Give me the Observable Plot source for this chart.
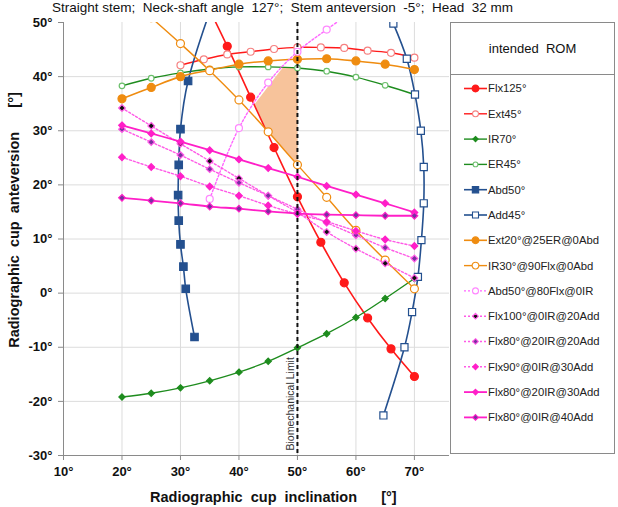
<!DOCTYPE html>
<html><head><meta charset="utf-8">
<script src="https://cdn.jsdelivr.net/npm/d3@7"></script>
<script src="https://cdn.jsdelivr.net/npm/@observablehq/plot@0.6"></script>
<style>
body{margin:0;background:#fff;font-family:"Liberation Sans",Arial,sans-serif;color:#111}
#wrap{position:relative;width:618px;height:507px;overflow:hidden}
#chart{position:absolute;left:0;top:0}
.abs{position:absolute;white-space:pre}
</style></head><body><div id="wrap"><div id="chart"></div></div>
<script>
// ---- data ----
const titleText = "Straight stem;  Neck-shaft angle  127°;  Stem anteversion  -5°;  Head  32 mm";
const xTicks = [10, 20, 30, 40, 50, 60, 70];
const yTicks = [-30, -20, -10, 0, 10, 20, 30, 40, 50];
const limitX = [50];
const limitLabel = "Biomechanical Limit";
const romLabel = "intended  ROM";

const flx125 = [[34,54.5],[38,45.6],[42,36.2],[46,26.9],[50,17.8],[54,9.4],[58,1.9],[62,-4.6],[66,-10.3],[70,-15.4]];
const ext45 = [[30,42.1],[34,43.2],[38,44.1],[42,44.6],[46,45.1],[50,45.4],[54,45.4],[58,45.3],[62,44.8],[66,44.4],[70,43.5]];
const ir70 = [[20,-19.2],[25,-18.5],[30,-17.5],[35,-16.2],[40,-14.6],[45,-12.6],[50,-10.1],[55,-7.5],[60,-4.5],[65,-1.0],[70,2.7]];
const er45 = [[20,38.3],[25,39.7],[30,40.7],[35,41.4],[40,41.8],[45,41.8],[50,41.6],[55,41.0],[60,39.9],[65,38.4],[70,36.7]];
const abd50 = [[32.4,-8.1],[30.9,0.8],[30.5,4.9],[30.0,9.0],[29.7,13.4],[29.6,18.1],[29.7,23.7],[30.0,30.3],[31.3,39.2],[36.3,56.0]];
const add45 = [[66.4,49.8],[68.7,43.3],[70.1,36.7],[71.1,30.0],[71.6,23.3],[71.6,16.6],[71.2,9.8],[70.6,3.0],[69.6,-3.5],[68.3,-10.0],[64.7,-22.6]];
const ext20 = [[20,35.9],[25,38.0],[30,40.0],[35,41.2],[40,42.3],[45,42.9],[50,43.2],[55,43.3],[60,42.9],[65,42.3],[70,41.3]];
const ir30 = [[25,50.9],[30,46.1],[35,41.1],[40,35.7],[45,29.8],[50,23.7],[55,17.7],[60,11.6],[65,6.1],[70,0.8]];
const abd50f80 = [[35,17.4],[40,30.5],[45,38.9],[50,44.6],[55,48.7],[60,52.5]];
const flx100 = [[20,34.2],[25,30.9],[30,27.6],[35,24.4],[40,21.2],[45,18.0],[50,14.9],[55,11.3],[60,8.2],[65,5.5],[70,2.8]];
const flx80ir20add20 = [[20,30.3],[25,27.9],[30,25.5],[35,22.9],[40,20.4],[45,18.0],[50,15.5],[55,13.0],[60,10.7],[65,8.4],[70,6.4]];
const flx90add30 = [[20,25.1],[25,23.3],[30,21.6],[35,19.7],[40,18.0],[45,16.2],[50,14.6],[55,13.2],[60,11.5],[65,9.9],[70,8.7]];
const flx80ir20add30 = [[20,31.0],[25,29.5],[30,28.0],[35,26.4],[40,24.7],[45,23.1],[50,21.5],[55,19.8],[60,18.2],[65,16.6],[70,14.9]];
const flx80add40 = [[20,17.6],[25,17.1],[30,16.6],[35,16.0],[40,15.6],[45,15.1],[50,14.7],[55,14.5],[60,14.4],[65,14.3],[70,14.3]];
const romRegion = [[42.6,34.8],[47.5,41.7],[50,41.6],[50,23.7],[44.5,30.4]];

// ---- styles ----
const RED="#ff1a1a", GREEN="#1e8c1e", BLUE="#24508f", ORANGE="#ef8c10", PINK="#ff5ae6", MAG="#ff1fc8", PURP="#7a2fa0";
const DOT = "2,2";
const series = [
 {name:"Flx125°", data:flx125, stroke:RED, sw:1.6, symbol:"circle", r:4, fill:RED, ms:RED},
 {name:"Ext45°", data:ext45, stroke:RED, sw:1.4, symbol:"circle", r:3.5, fill:"#fff", ms:"#f58080"},
 {name:"IR70°", data:ir70, stroke:GREEN, sw:1.4, symbol:"diamond2", r:2.8, fill:GREEN, ms:GREEN},
 {name:"ER45°", data:er45, stroke:GREEN, sw:1.4, symbol:"circle", r:2.8, fill:"#fff", ms:"#6cbf6c"},
 {name:"Abd50°", data:abd50, stroke:BLUE, sw:1.6, symbol:"square", r:4.2, fill:BLUE, ms:BLUE},
 {name:"Add45°", data:add45, stroke:BLUE, sw:1.6, symbol:"square", r:4, fill:"#fff", ms:BLUE},
 {name:"Ext20°@25ER@0Abd", data:ext20, stroke:ORANGE, sw:1.6, symbol:"circle", r:4, fill:ORANGE, ms:ORANGE},
 {name:"IR30°@90Flx@0Abd", data:ir30, stroke:ORANGE, sw:1.4, symbol:"circle", r:4, fill:"#fff", ms:ORANGE},
 {name:"Abd50°@80Flx@0IR", data:abd50f80, stroke:"#ff66ff", sw:1.4, dash:DOT, symbol:"circle", r:3.5, fill:"#fff", ms:"#ff88ff"},
 {name:"Flx100°@0IR@20Add", data:flx100, stroke:PINK, sw:1.4, dash:DOT, symbol:"diamond2", r:3, fill:"#111", ms:PINK},
 {name:"Flx80°@20IR@20Add", data:flx80ir20add20, stroke:PINK, sw:1.4, dash:DOT, symbol:"diamond2", r:3, fill:PURP, ms:PINK},
 {name:"Flx90°@0IR@30Add", data:flx90add30, stroke:PINK, sw:1.4, dash:DOT, symbol:"diamond2", r:3, fill:MAG, ms:MAG},
 {name:"Flx80°@20IR@30Add", data:flx80ir20add30, stroke:MAG, sw:1.8, symbol:"diamond2", r:3, fill:MAG, ms:MAG},
 {name:"Flx80°@0IR@40Add", data:flx80add40, stroke:MAG, sw:1.8, symbol:"diamond2", r:3, fill:PURP, ms:MAG}
];

const X = d => d[0], Y = d => d[1];
const marks = [
  Plot.gridX(xTicks.filter(t => t > 10), {stroke:"#dcdcdc", strokeOpacity:1}),
  Plot.gridY(yTicks.filter(t => t > -30 && t < 50), {stroke:"#dcdcdc", strokeOpacity:1}),
  // shaded "intended ROM" region, drawn through the scales
  Plot.line(romRegion.concat([romRegion[0]]), {x:X, y:Y, stroke:"none", fill:"#f7c39b"}),
  Plot.ruleX([10], {stroke:"#8a8a8a"}),
  Plot.ruleY([-30], {stroke:"#8a8a8a"}),
  Plot.axisX({ticks:xTicks, tickFormat:d=>d+"°", tickSize:5, tickPadding:6, fontSize:13, fontWeight:"bold", stroke:"#8a8a8a", fill:"#111", label:null}),
  Plot.axisY({ticks:yTicks, tickFormat:d=>d+"°", tickSize:5, tickPadding:6, fontSize:13, fontWeight:"bold", stroke:"#8a8a8a", fill:"#111", label:null})
];
for (const s of series) {
  marks.push(Plot.line(s.data, {x:X, y:Y, curve:"catmull-rom", stroke:s.stroke, strokeWidth:s.sw, strokeDasharray:s.dash, clip:true}));
  marks.push(Plot.dot(s.data, {x:X, y:Y, symbol:s.symbol, r:s.r, fill:s.fill, stroke:s.ms, strokeWidth:1.2, clip:true}));
}
marks.push(Plot.ruleX(limitX, {stroke:"#111", strokeWidth:2, strokeDasharray:"4,3"}));
marks.push(Plot.text(limitX, {x:d=>d, y:-30, text:()=>limitLabel, rotate:-90, textAnchor:"start", dx:-7, dy:-5, fontSize:10.5, fill:"#333"}));

const chart = Plot.plot({
  width:618, height:507,
  marginLeft:63, marginRight:169, marginTop:22, marginBottom:52,
  x:{domain:[10,76]}, y:{domain:[-30,50]},
  style:{fontFamily:"'Liberation Sans', Arial, sans-serif", background:"transparent", color:"#111"},
  marks
});
document.getElementById("chart").appendChild(chart);

const wrap = document.getElementById("wrap");
function addDiv(txt, css) { const d = document.createElement("div"); d.className = "abs"; d.textContent = txt; d.style.cssText += css; wrap.appendChild(d); return d; }
addDiv(titleText, "left:52px;top:0px;font-size:13.5px;line-height:16px;color:#111");
addDiv("Radiographic  cup  inclination      [°]", "left:150px;top:488px;font-size:14.5px;font-weight:bold;line-height:18px");
addDiv("Radiographic  cup  anteversion      [°]", "left:14px;top:220px;font-size:14.5px;font-weight:bold;line-height:18px;transform:translate(-50%,-50%) rotate(-90deg)");

// legend boxes
addDiv("", "left:450px;top:22px;width:165px;height:53px;border:1px solid #8a8a8a;box-sizing:border-box;background:#fff");
addDiv(romLabel, "left:450px;top:41px;width:165px;text-align:center;font-size:13px;color:#111");
addDiv("", "left:450px;top:74px;width:165px;height:380px;border:1px solid #8a8a8a;box-sizing:border-box;background:#fff");
const lg = d3.select(wrap).append("svg").attr("width",168).attr("height",380)
  .style("position","absolute").style("left","450px").style("top","74px");
const symMap = {circle:d3.symbolCircle, square:d3.symbolSquare, diamond2:d3.symbolDiamond2};
series.forEach((s, i) => {
  const cy = 14.5 + i * 25.3;
  const g = lg.append("g").attr("transform", `translate(0,${cy})`);
  g.append("line").attr("x1",14).attr("x2",37).attr("y1",0).attr("y2",0)
    .attr("stroke", s.stroke).attr("stroke-width", s.sw).attr("stroke-dasharray", s.dash || null);
  const rr = s.r * 0.85;
  g.append("path").attr("transform","translate(25.5,0)")
    .attr("d", d3.symbol(symMap[s.symbol], Math.PI * rr * rr)())
    .attr("fill", s.fill).attr("stroke", s.ms).attr("stroke-width", 1.1);
  g.append("text").attr("x",38).attr("y",0).attr("dy","0.35em")
    .attr("font-size",11.3).attr("fill","#222").attr("font-family","'Liberation Sans', Arial, sans-serif").text(s.name);
});
</script></body></html>
